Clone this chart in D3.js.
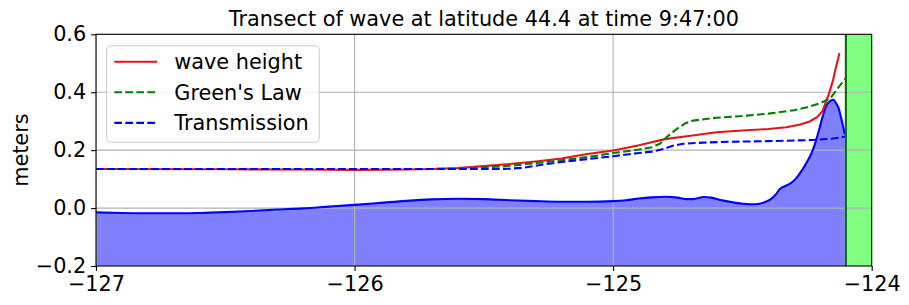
<!DOCTYPE html>
<html>
<head>
<meta charset="utf-8">
<script src="https://cdn.jsdelivr.net/npm/d3@7"></script>
<style>
body { margin: 0; background: #fff; }
text { font-family: "DejaVu Sans", sans-serif; }
</style>
</head>
<body>
<div id="chart"></div>
<script>
// sea surface along the transect (filled)
var surf_lon = [-127, -126.9, -126.8, -126.7, -126.6, -126.5, -126.4, -126.3, -126.2, -126.1,
                -126.0, -125.9, -125.8, -125.7, -125.6, -125.5, -125.4, -125.3, -125.2, -125.1,
                -125.0, -124.95, -124.9, -124.85, -124.8, -124.75, -124.72, -124.69, -124.65, -124.62,
                -124.59, -124.55, -124.5, -124.47, -124.44, -124.41, -124.39, -124.37, -124.355, -124.33,
                -124.31, -124.29, -124.27, -124.25, -124.235, -124.22, -124.205, -124.19, -124.175, -124.16,
                -124.148, -124.138, -124.128, -124.118, -124.11, -124.104];
var surf_val = [-0.015, -0.017, -0.018, -0.018, -0.017, -0.014, -0.010, -0.005, -0.001, 0.005,
                0.011, 0.018, 0.025, 0.030, 0.032, 0.031, 0.027, 0.024, 0.022, 0.022,
                0.024, 0.027, 0.033, 0.037, 0.039, 0.036, 0.031, 0.031, 0.038, 0.036,
                0.029, 0.022, 0.015, 0.013, 0.014, 0.022, 0.031, 0.048, 0.066, 0.078,
                0.088, 0.105, 0.130, 0.160, 0.185, 0.220, 0.265, 0.315, 0.355, 0.370,
                0.374, 0.362, 0.345, 0.310, 0.280, 0.255];

var wave_lon = [-127, -126.5, -126.2, -126.0, -125.8, -125.7, -125.6, -125.5, -125.4, -125.3,
                -125.2, -125.1, -125.0, -124.9, -124.8, -124.7, -124.6, -124.5, -124.4, -124.33,
                -124.28, -124.24, -124.21, -124.19, -124.18, -124.165, -124.15, -124.14, -124.13, -124.125];
var wave_val = [0.135, 0.134, 0.133, 0.132, 0.133, 0.135, 0.138, 0.145, 0.152, 0.161,
                0.171, 0.187, 0.199, 0.217, 0.238, 0.250, 0.262, 0.268, 0.273, 0.279,
                0.288, 0.299, 0.315, 0.335, 0.360, 0.395, 0.440, 0.480, 0.515, 0.535];

var green_lon = [-127, -125.7, -125.6, -125.5, -125.4, -125.3, -125.2, -125.1, -125.0, -124.9,
                 -124.85, -124.82, -124.79, -124.75, -124.72, -124.69, -124.6, -124.5, -124.4, -124.3,
                 -124.25, -124.2, -124.16, -124.13, -124.1];
var green_val = [0.135, 0.135, 0.136, 0.140, 0.146, 0.155, 0.165, 0.176, 0.190, 0.202,
                 0.210, 0.222, 0.247, 0.276, 0.293, 0.302, 0.312, 0.318, 0.326, 0.338,
                 0.348, 0.362, 0.379, 0.415, 0.449];

var trans_lon = [-127, -125.45, -125.4, -125.35, -125.3, -125.25, -125.2, -125.1, -125.0, -124.9,
                 -124.85, -124.8, -124.77, -124.73, -124.65, -124.55, -124.4, -124.23, -124.15, -124.1];
var trans_val = [0.135, 0.135, 0.136, 0.139, 0.146, 0.153, 0.159, 0.169, 0.179, 0.190,
                 0.195, 0.205, 0.215, 0.222, 0.226, 0.229, 0.231, 0.235, 0.240, 0.247];

var coast_lon = -124.1;
var x_ticks = [-127, -126, -125, -124];
var y_ticks = [-0.2, 0.0, 0.2, 0.4, 0.6];
var legend_names = ['wave height', "Green's Law", 'Transmission'];

var chart_width  = 909;
var chart_height = 305;
var margin = { left: 96, right: 37.3, top: 34.3, bottom: 39 };
var fs = 20.8;

var svg = d3.select('#chart')
    .append('svg')
    .attr('width', chart_width)
    .attr('height', chart_height);

var x_scale = d3.scaleLinear()
    .domain([-127, -124])
    .range([margin.left, chart_width - margin.right]);

var y_scale = d3.scaleLinear()
    .domain([-0.2, 0.6])
    .range([chart_height - margin.bottom, margin.top]);

svg.append('clipPath').attr('id', 'clip')
    .append('rect')
    .attr('x', x_scale(-127)).attr('y', y_scale(0.6))
    .attr('width', x_scale(-124) - x_scale(-127))
    .attr('height', y_scale(-0.2) - y_scale(0.6));

var plot = svg.append('g').attr('clip-path', 'url(#clip)');

function pairs(xs, ys) {
    return xs.map(function(d, i) { return [d, ys[i]]; });
}

// filled surface
plot.append('path')
    .datum(pairs(surf_lon, surf_val))
    .attr('d', d3.area()
        .x(function(d) { return x_scale(d[0]); })
        .y0(y_scale(-0.2))
        .y1(function(d) { return y_scale(d[1]); })
        .curve(d3.curveMonotoneX))
    .attr('fill', '#8080ff');

// land
plot.append('rect')
    .attr('x', x_scale(coast_lon))
    .attr('y', y_scale(0.6))
    .attr('width', x_scale(-124) - x_scale(coast_lon))
    .attr('height', y_scale(-0.2) - y_scale(0.6))
    .attr('fill', '#80ff80');

// grid
plot.selectAll('.gx').data(x_ticks).enter().append('line')
    .attr('x1', function(d) { return x_scale(d); })
    .attr('x2', function(d) { return x_scale(d); })
    .attr('y1', y_scale(-0.2)).attr('y2', y_scale(0.6))
    .attr('stroke', '#b0b0b0').attr('stroke-width', 1.1);
plot.selectAll('.gy').data(y_ticks).enter().append('line')
    .attr('y1', function(d) { return y_scale(d); })
    .attr('y2', function(d) { return y_scale(d); })
    .attr('x1', x_scale(-127)).attr('x2', x_scale(-124))
    .attr('stroke', '#b0b0b0').attr('stroke-width', 1.1);

var line = d3.line()
    .x(function(d) { return x_scale(d[0]); })
    .y(function(d) { return y_scale(d[1]); });

plot.append('path')
    .datum(pairs(surf_lon, surf_val))
    .attr('d', line.curve(d3.curveMonotoneX))
    .attr('fill', 'none').attr('stroke', '#0000ff').attr('stroke-width', 2.1);

line.curve(d3.curveLinear);

var series = [
    { xs: wave_lon,  ys: wave_val,  color: '#e0161b', dash: null },
    { xs: green_lon, ys: green_val, color: '#008000', dash: '7.7,3.3' },
    { xs: trans_lon, ys: trans_val, color: '#0000ff', dash: '7.7,3.3' }
];

series.forEach(function(s) {
    plot.append('path')
        .datum(pairs(s.xs, s.ys))
        .attr('d', line)
        .attr('fill', 'none')
        .attr('stroke', s.color)
        .attr('stroke-width', 2.1)
        .attr('stroke-dasharray', s.dash);
});

// coast line
plot.append('line')
    .attr('x1', x_scale(coast_lon)).attr('x2', x_scale(coast_lon))
    .attr('y1', y_scale(-0.2)).attr('y2', y_scale(0.6))
    .attr('stroke', '#007000').attr('stroke-width', 2.1);

// axes
var x_axis = d3.axisBottom(x_scale)
    .tickValues(x_ticks)
    .tickSize(4.9).tickPadding(4.9)
    .tickFormat(function(d) { return d3.format('d')(d).replace('-', '\u2212'); });
var y_axis = d3.axisLeft(y_scale)
    .tickValues(y_ticks)
    .tickSize(4.9).tickPadding(4.9)
    .tickFormat(function(d) { return d3.format('.1f')(d).replace('-', '\u2212'); });

var gx = svg.append('g')
    .attr('transform', 'translate(0,' + y_scale(-0.2) + ')')
    .call(x_axis);
var gy = svg.append('g')
    .attr('transform', 'translate(' + x_scale(-127) + ',0)')
    .call(y_axis);

[gx, gy].forEach(function(g) {
    g.select('.domain').remove();
    g.selectAll('line').attr('stroke', '#000').attr('stroke-width', 1.1);
    g.selectAll('text').attr('font-size', fs).attr('fill', '#000')
        .style('font-family', '"DejaVu Sans", sans-serif');
});
gx.selectAll('text').attr('dy', '0.72em');

// spines
svg.append('rect')
    .attr('x', x_scale(-127)).attr('y', y_scale(0.6))
    .attr('width', x_scale(-124) - x_scale(-127))
    .attr('height', y_scale(-0.2) - y_scale(0.6))
    .attr('fill', 'none').attr('stroke', '#000').attr('stroke-width', 1.1);

// title & label
svg.append('text')
    .text('Transect of wave at latitude 44.4 at time 9:47:00')
    .attr('x', (x_scale(-127) + x_scale(-124)) / 2)
    .attr('y', 26)
    .attr('text-anchor', 'middle')
    .attr('font-size', fs);

svg.append('text')
    .text('meters')
    .attr('transform', 'translate(28,' + (y_scale(0.2)) + ') rotate(-90)')
    .attr('text-anchor', 'middle')
    .attr('font-size', fs);

// legend
var legend = svg.append('g');
legend.append('rect')
    .attr('x', 106.7).attr('y', 45.7)
    .attr('width', 212.5).attr('height', 96.6)
    .attr('rx', 4).attr('ry', 4)
    .attr('fill', '#fff').attr('fill-opacity', 0.8)
    .attr('stroke', '#cccccc').attr('stroke-width', 1.1);

series.forEach(function(s, i) {
    var yy = 61.7 + i * 30.6;
    legend.append('line')
        .attr('x1', 114.3).attr('x2', 157)
        .attr('y1', yy).attr('y2', yy)
        .attr('stroke', s.color).attr('stroke-width', 2.1)
        .attr('stroke-dasharray', s.dash);
    legend.append('text')
        .text(legend_names[i])
        .attr('x', 174.3).attr('y', yy)
        .attr('dy', '0.36em')
        .attr('font-size', fs);
});
</script>
</body>
</html>
